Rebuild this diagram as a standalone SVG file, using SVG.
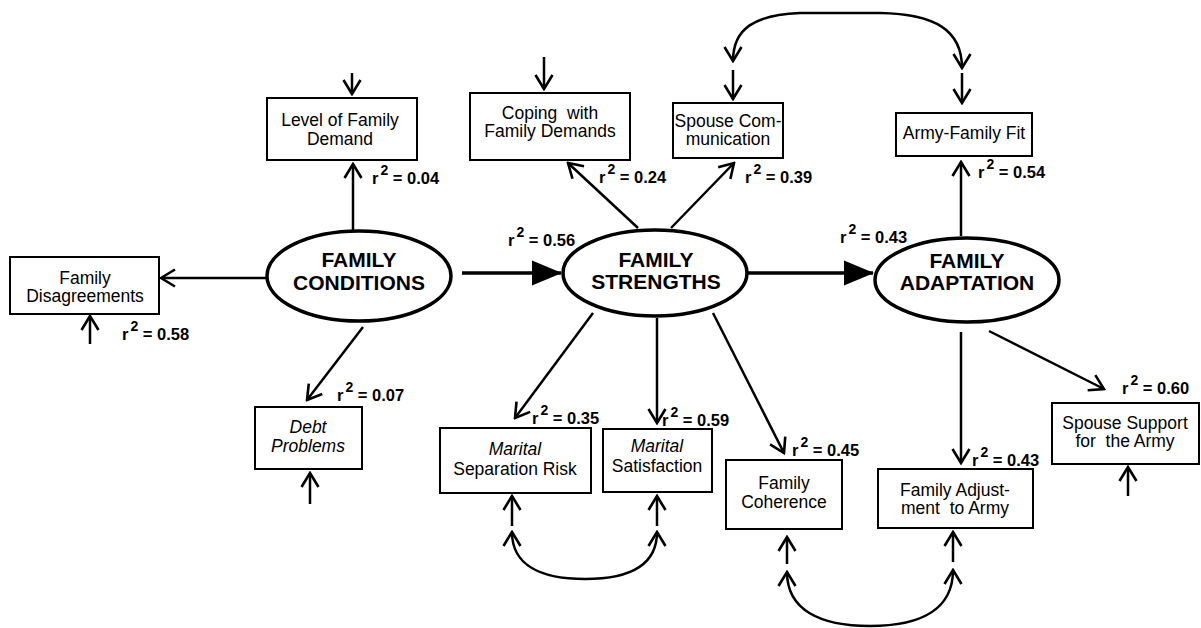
<svg xmlns="http://www.w3.org/2000/svg" width="1201" height="628" viewBox="0 0 1201 628">
<style>
.box{fill:#fff;stroke:#000;stroke-width:2}
.ell{fill:#fff;stroke:#000;stroke-width:3.5}
.bt{font-family:"Liberation Sans",Arial,sans-serif;font-size:17.5px;text-anchor:middle;fill:#000}
.it{font-style:italic}
.et{font-family:"Liberation Sans",Arial,sans-serif;font-size:21px;font-weight:bold;text-anchor:middle;fill:#000}
.r{font-family:"Liberation Sans",Arial,sans-serif;font-size:16.5px;font-weight:bold;fill:#000}
.ln{fill:none;stroke:#000;stroke-width:2.5;marker-end:url(#open)}
.cv{fill:none;stroke:#000;stroke-width:2.5;marker-start:url(#open);marker-end:url(#open)}
.thick{fill:none;stroke:#000;stroke-width:3.5;marker-end:url(#big)}
</style>
<defs>
<marker id="open" viewBox="0 0 18 20" refX="16" refY="10" markerWidth="18" markerHeight="20" markerUnits="userSpaceOnUse" orient="auto-start-reverse">
<path d="M2,1.5 L16,10 L2,18.5" fill="none" stroke="#000" stroke-width="2.6"/>
</marker>
<marker id="big" viewBox="0 0 30 28" refX="29" refY="14" markerWidth="30" markerHeight="28" markerUnits="userSpaceOnUse" orient="auto">
<path d="M0,1.5 L30,14 L0,26.5 z" fill="#000"/>
</marker>
</defs>

<g id="connectors">
<line class="thick" x1="462" y1="273" x2="561" y2="273"/>
<line class="thick" x1="748" y1="273" x2="873" y2="273"/>
<line class="ln" x1="353" y1="231" x2="353" y2="164"/>
<line class="ln" x1="267" y1="278" x2="161" y2="278"/>
<line class="ln" x1="363" y1="327" x2="307" y2="400"/>
<line class="ln" x1="638" y1="228" x2="568" y2="163"/>
<line class="ln" x1="671" y1="228" x2="734" y2="163"/>
<line class="ln" x1="593" y1="313" x2="515" y2="418"/>
<line class="ln" x1="657" y1="318" x2="657" y2="423"/>
<line class="ln" x1="713" y1="313" x2="784" y2="453"/>
<line class="ln" x1="961" y1="236" x2="961" y2="162"/>
<line class="ln" x1="961" y1="332" x2="961" y2="463"/>
<line class="ln" x1="989" y1="331" x2="1104" y2="389"/>
<line class="ln" x1="352" y1="73" x2="352" y2="94"/>
<line class="ln" x1="544" y1="57" x2="544" y2="89"/>
<line class="ln" x1="733" y1="70" x2="733" y2="99"/>
<line class="ln" x1="962" y1="73" x2="962" y2="103"/>
<line class="ln" x1="90" y1="344" x2="90" y2="316"/>
<line class="ln" x1="310" y1="504" x2="310" y2="473"/>
<line class="ln" x1="512" y1="526" x2="512" y2="496"/>
<line class="ln" x1="657" y1="526" x2="657" y2="496"/>
<line class="ln" x1="787" y1="564" x2="787" y2="537"/>
<line class="ln" x1="953" y1="562" x2="953" y2="532"/>
<line class="ln" x1="1128" y1="496" x2="1128" y2="467"/>
<path class="cv" d="M733,61 C733,28 755,15 800,13 L880,13 C935,14 962,30 962,68"/>
<path class="cv" d="M512,532 C512,566 542,579 585,579 C628,579 657,566 657,532"/>
<path class="cv" d="M787,572 C787,610 820,626 870,626 C920,626 953,610 953,570"/>
</g>

<g id="family-conditions">
<ellipse class="ell" cx="359" cy="276" rx="92" ry="45"/>
<text class="et" x="359" y="267">FAMILY</text>
<text class="et" x="359" y="290">CONDITIONS</text>
</g>
<g id="family-strengths">
<ellipse class="ell" cx="655" cy="273" rx="92" ry="43"/>
<text class="et" x="656" y="267">FAMILY</text>
<text class="et" x="656" y="289">STRENGTHS</text>
</g>
<g id="family-adaptation">
<ellipse class="ell" cx="967" cy="280" rx="92" ry="42"/>
<text class="et" x="967" y="268">FAMILY</text>
<text class="et" x="967" y="290">ADAPTATION</text>
</g>

<g id="level-demand">
<rect class="box" x="267" y="98" width="150" height="62"/>
<text class="bt" x="340" y="126">Level of Family</text>
<text class="bt" x="340" y="145">Demand</text>
</g>
<g id="disagreements">
<rect class="box" x="10" y="257" width="149" height="57"/>
<text class="bt" x="85" y="284">Family</text>
<text class="bt" x="85" y="302">Disagreements</text>
</g>
<g id="debt">
<rect class="box" x="255" y="407" width="107" height="62"/>
<text class="bt it" x="308" y="433">Debt</text>
<text class="bt it" x="308" y="452">Problems</text>
</g>
<g id="coping">
<rect class="box" x="470" y="93" width="160" height="67"/>
<text class="bt" x="550" y="119" xml:space="preserve">Coping  with</text>
<text class="bt" x="550" y="137">Family Demands</text>
</g>
<g id="spouse-comm">
<rect class="box" x="673" y="103" width="110" height="55"/>
<text class="bt" x="728" y="127">Spouse Com-</text>
<text class="bt" x="728" y="145">munication</text>
</g>
<g id="army-fit">
<rect class="box" x="896" y="113" width="136" height="43"/>
<text class="bt" x="964" y="139">Army-Family Fit</text>
</g>
<g id="separation">
<rect class="box" x="440" y="428" width="151" height="65"/>
<text class="bt it" x="515" y="455">Marital</text>
<text class="bt" x="515" y="475">Separation Risk</text>
</g>
<g id="satisfaction">
<rect class="box" x="603" y="429" width="109" height="63"/>
<text class="bt it" x="657" y="452">Marital</text>
<text class="bt" x="657" y="472">Satisfaction</text>
</g>
<g id="coherence">
<rect class="box" x="726" y="460" width="116" height="69"/>
<text class="bt" x="784" y="489">Family</text>
<text class="bt" x="784" y="508">Coherence</text>
</g>
<g id="adjustment">
<rect class="box" x="878" y="469" width="155" height="59"/>
<text class="bt" x="955" y="496">Family Adjust-</text>
<text class="bt" x="955" y="514" xml:space="preserve">ment  to Army</text>
</g>
<g id="spouse-support">
<rect class="box" x="1052" y="403" width="147" height="61"/>
<text class="bt" x="1125" y="429">Spouse Support</text>
<text class="bt" x="1125" y="447" xml:space="preserve">for  the Army</text>
</g>

<g id="r2-labels">
<text class="r" x="372" y="184">r<tspan dx="2" dy="-9" font-size="14">2</tspan><tspan dy="9"> = 0.04</tspan></text>
<text class="r" x="599" y="183">r<tspan dx="2" dy="-9" font-size="14">2</tspan><tspan dy="9"> = 0.24</tspan></text>
<text class="r" x="745" y="183">r<tspan dx="2" dy="-9" font-size="14">2</tspan><tspan dy="9"> = 0.39</tspan></text>
<text class="r" x="508" y="246">r<tspan dx="2" dy="-9" font-size="14">2</tspan><tspan dy="9"> = 0.56</tspan></text>
<text class="r" x="840" y="243">r<tspan dx="2" dy="-9" font-size="14">2</tspan><tspan dy="9"> = 0.43</tspan></text>
<text class="r" x="978" y="178">r<tspan dx="2" dy="-9" font-size="14">2</tspan><tspan dy="9"> = 0.54</tspan></text>
<text class="r" x="122" y="340">r<tspan dx="2" dy="-9" font-size="14">2</tspan><tspan dy="9"> = 0.58</tspan></text>
<text class="r" x="337" y="401">r<tspan dx="2" dy="-9" font-size="14">2</tspan><tspan dy="9"> = 0.07</tspan></text>
<text class="r" x="532" y="424">r<tspan dx="2" dy="-9" font-size="14">2</tspan><tspan dy="9"> = 0.35</tspan></text>
<text class="r" x="662" y="426">r<tspan dx="2" dy="-9" font-size="14">2</tspan><tspan dy="9"> = 0.59</tspan></text>
<text class="r" x="792" y="456">r<tspan dx="2" dy="-9" font-size="14">2</tspan><tspan dy="9"> = 0.45</tspan></text>
<text class="r" x="972" y="466">r<tspan dx="2" dy="-9" font-size="14">2</tspan><tspan dy="9"> = 0.43</tspan></text>
<text class="r" x="1122" y="394">r<tspan dx="2" dy="-9" font-size="14">2</tspan><tspan dy="9"> = 0.60</tspan></text>
</g>
</svg>
